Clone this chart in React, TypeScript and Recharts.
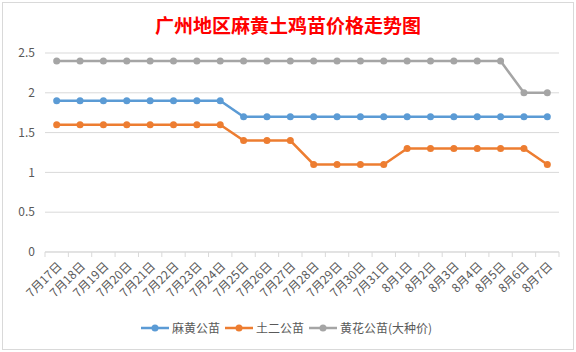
import { LineChart, Line, XAxis, YAxis, CartesianGrid } from "recharts";

const categories = [
  "7月17日", "7月18日", "7月19日", "7月20日", "7月21日", "7月22日", "7月23日", "7月24日",
  "7月25日", "7月26日", "7月27日", "7月28日", "7月29日", "7月30日", "7月31日",
  "8月1日", "8月2日", "8月3日", "8月4日", "8月5日", "8月6日", "8月7日",
];
const mahuang = [1.9, 1.9, 1.9, 1.9, 1.9, 1.9, 1.9, 1.9, 1.7, 1.7, 1.7, 1.7, 1.7, 1.7, 1.7, 1.7, 1.7, 1.7, 1.7, 1.7, 1.7, 1.7];
const tuer = [1.6, 1.6, 1.6, 1.6, 1.6, 1.6, 1.6, 1.6, 1.4, 1.4, 1.4, 1.1, 1.1, 1.1, 1.1, 1.3, 1.3, 1.3, 1.3, 1.3, 1.3, 1.1];
const huanghua = [2.4, 2.4, 2.4, 2.4, 2.4, 2.4, 2.4, 2.4, 2.4, 2.4, 2.4, 2.4, 2.4, 2.4, 2.4, 2.4, 2.4, 2.4, 2.4, 2.4, 2.0, 2.0];
const yTicks = [0, 0.5, 1, 1.5, 2, 2.5];

const series = [
  { key: "mahuang", name: "麻黄公苗", color: "#5B9BD5" },
  { key: "tuer", name: "土二公苗", color: "#ED7D31" },
  { key: "huanghua", name: "黄花公苗(大种价)", color: "#A5A5A5" },
];

const data = categories.map((c, i) => ({
  date: c,
  mahuang: mahuang[i],
  tuer: tuer[i],
  huanghua: huanghua[i],
}));

const FONT = '"Noto Sans CJK SC", "Noto Sans", sans-serif';
const W = 576;
const H = 352;
const MARGIN = { top: 53, right: 17, left: 0, bottom: 40 };
const Y_W = 45;
const PLOT_W = W - MARGIN.left - MARGIN.right - Y_W;
const BAND = PLOT_W / categories.length;

// Excel 风格：刻度线在类别之间，标签 -45° 旋转
function XTick(props: any) {
  const { x, y, payload, index } = props;
  const axisY = y - 8;
  return (
    <g>
      <line x1={x - BAND / 2} y1={axisY} x2={x - BAND / 2} y2={axisY + 5} stroke="#d9d9d9" />
      {index === categories.length - 1 && (
        <line x1={x + BAND / 2} y1={axisY} x2={x + BAND / 2} y2={axisY + 5} stroke="#d9d9d9" />
      )}
      <text
        transform={`translate(${x + 3},${y + 4}) rotate(-45)`}
        textAnchor="end"
        dy="0.35em"
        fill="#595959"
        fontSize={12}
        fontFamily={FONT}
      >
        {payload.value}
      </text>
    </g>
  );
}

export default function App() {
  return (
    <div
      style={{
        position: "fixed",
        left: 0,
        top: 0,
        width: W,
        height: H,
        background: "#fff",
        fontFamily: FONT,
      }}
    >
      <div
        style={{
          position: "absolute",
          left: 2,
          top: 2,
          width: 570,
          height: 346,
          border: "1px solid #d9d9d9",
        }}
      />
      <div
        style={{
          position: "absolute",
          top: 11,
          left: 0,
          width: W,
          textAlign: "center",
          color: "#FF0000",
          fontSize: 19,
          fontWeight: "bold",
        }}
      >
        广州地区麻黄土鸡苗价格走势图
      </div>
      <div style={{ position: "absolute", left: 0, top: 0 }}>
        <LineChart width={W} height={H} data={data} margin={MARGIN}>
          <CartesianGrid stroke="#d9d9d9" vertical={false} />
          <XAxis
            dataKey="date"
            interval={0}
            height={60}
            padding={{ left: BAND / 2, right: BAND / 2 }}
            stroke="#d9d9d9"
            tickLine={false}
            tick={<XTick />}
          />
          <YAxis
            width={Y_W}
            domain={[0, 2.5]}
            ticks={yTicks}
            axisLine={false}
            tickLine={false}
            tickMargin={4}
            tick={{ fill: "#595959", fontSize: 12, fontFamily: FONT }}
          />
          {series.map((s) => (
            <Line
              key={s.key}
              type="linear"
              dataKey={s.key}
              name={s.name}
              stroke={s.color}
              strokeWidth={2.5}
              dot={{ r: 3.5, fill: s.color, stroke: s.color, strokeWidth: 0 }}
              isAnimationActive={false}
            />
          ))}
        </LineChart>
      </div>
      <div
        style={{
          position: "absolute",
          top: 319,
          left: 0,
          width: W,
          display: "flex",
          justifyContent: "center",
          alignItems: "center",
          fontSize: 12,
          color: "#595959",
        }}
      >
        {series.map((s) => (
          <div key={s.key} style={{ display: "flex", alignItems: "center", marginRight: 4 }}>
            <svg width={30} height={16}>
              <line x1={1} y1={8} x2={29} y2={8} stroke={s.color} strokeWidth={2.5} />
              <circle cx={15} cy={8} r={3.5} fill={s.color} />
            </svg>
            <span style={{ marginLeft: 2 }}>{s.name}</span>
          </div>
        ))}
      </div>
    </div>
  );
}
